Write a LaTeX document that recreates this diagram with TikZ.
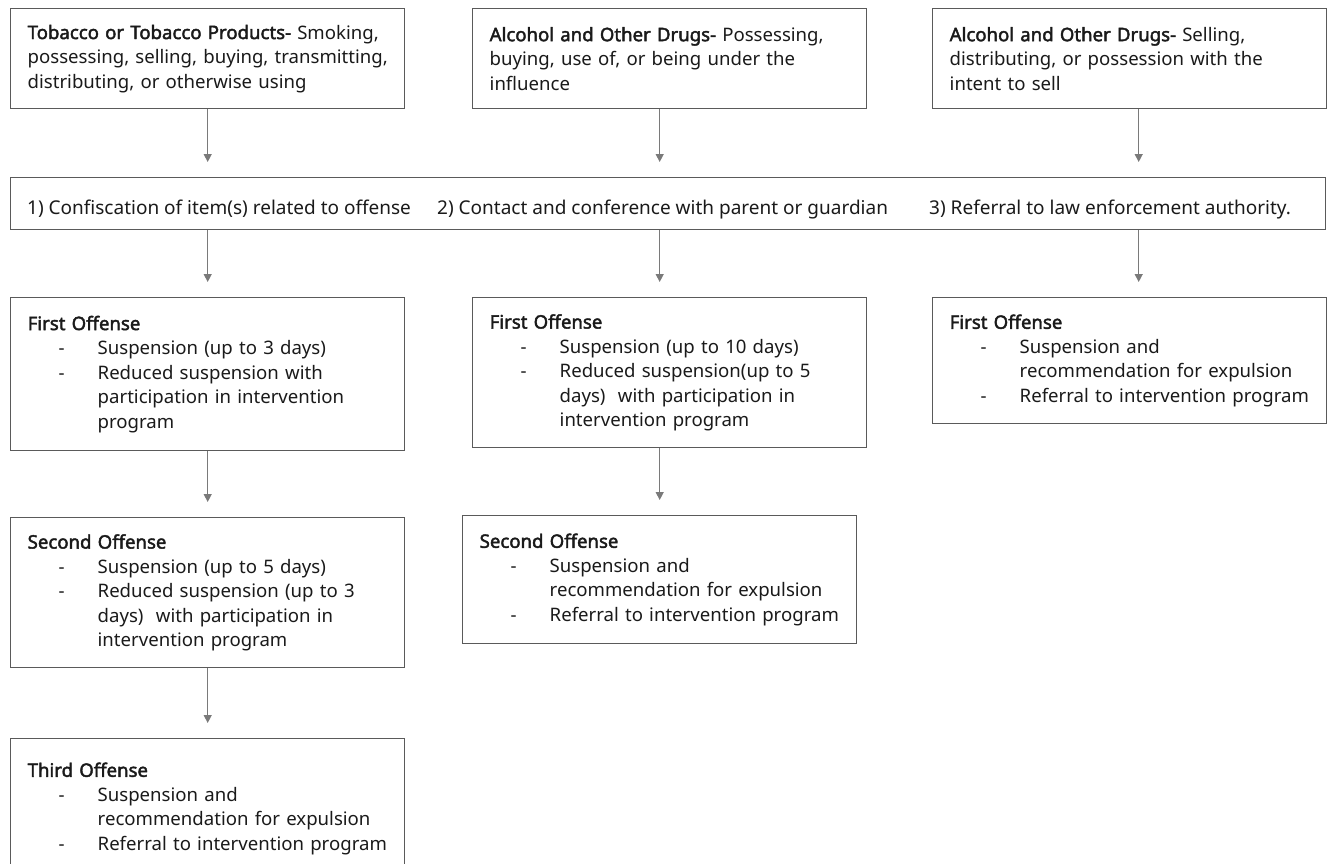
\documentclass[tikz,border=0pt]{standalone}
\usepackage{fontspec}
\setmainfont{Noto Sans}[AutoFakeBold=2.2]
\usetikzlibrary{arrows.meta}
\definecolor{boxgray}{HTML}{5A5A5A}
\definecolor{arrgray}{HTML}{7A7A7A}
\definecolor{txt}{HTML}{1A1A1A}
\newcommand{\fs}{\fontsize{18.6}{24.5}\selectfont}
\newcommand{\fsb}{\fontsize{19}{24.5}\selectfont}
\newcommand{\dsh}{\hspace*{31pt}\makebox[39pt][l]{-}}
\newcommand{\ind}{\hspace*{70pt}}
\newcommand{\nb}[1]{\mbox{#1}}
\begin{document}
\begin{tikzpicture}[x=1pt,y=-1pt,
  box/.style={draw=boxgray, line width=1.4pt, anchor=north west, inner xsep=17pt, inner ysep=0pt,
    text width=360pt, align=left, font=\fs, text=txt},
  bartext/.style={anchor=base west, inner sep=0pt, font=\fsb, text=txt},
  arr/.style={draw=arrgray, line width=1.3pt, -{Triangle[width=8pt,length=8pt]}, shorten >=15pt}]
\useasboundingbox (0,0) rectangle (1331,863);
\fill[white] (0,0) rectangle (1331,863);

% top boxes
\node[box, minimum height=100pt] (b1) at (10,8)
  {\nb{\textbf{Tobacco or Tobacco Products-} Smoking,}\\\nb{possessing, selling, buying, transmitting,}\\\nb{distributing, or otherwise using}};
\node[box, minimum height=100pt] (b2) at (472,8)
  {\nb{\textbf{Alcohol and Other Drugs-} Possessing,}\\buying, use of, or being under the\\influence};
\node[box, minimum height=100pt] (b3) at (932,8)
  {\nb{\textbf{Alcohol and Other Drugs-} Selling,}\\distributing, or possession with the\\intent to sell};

% bar
\node[draw=boxgray, line width=1.4pt, anchor=north west, minimum width=1315pt, minimum height=52pt, inner sep=0pt] (bar) at (10,177) {};
\node[bartext] (t1) at (27,214) {1) Confiscation of item(s) related to offense};
\node[bartext] (t2) at (437,214) {2) Contact and conference with parent or guardian};
\node[bartext] (t3) at (929,214) {3) Referral to law enforcement authority.};

% second row
\node[box, minimum height=153pt] (a1) at (10,297)
  {\textbf{First Offense}\\\dsh Suspension (up to 3 days)\\\dsh Reduced suspension with\\\ind participation in intervention\\\ind program};
\node[box, minimum height=150pt] (m1) at (472,297)
  {\textbf{First Offense}\\\dsh Suspension (up to 10 days)\\\dsh Reduced suspension(up to 5\\\ind days)\ \ with participation in\\\ind intervention program};
\node[box, minimum height=126pt] (c1) at (932,297)
  {\textbf{First Offense}\\\dsh Suspension and\\\ind recommendation for expulsion\\\dsh \nb{Referral to intervention program}};

% third row
\node[box, minimum height=150pt] (a2) at (10,517)
  {\textbf{Second Offense}\\\dsh Suspension (up to 5 days)\\\dsh Reduced suspension (up to 3\\\ind days)\ \ with participation in\\\ind intervention program};
\node[box, minimum height=128pt] (m2) at (462,515)
  {\textbf{Second Offense}\\\dsh Suspension and\\\ind recommendation for expulsion\\\dsh \nb{Referral to intervention program}};

% fourth row
\node[box, minimum height=140pt] (a3) at (10,738)
  {\textbf{Third Offense}\\\dsh Suspension and\\\ind recommendation for expulsion\\\dsh \nb{Referral to intervention program}\\[14pt]};

% connector x positions
\coordinate (xl) at (b1.south);
\coordinate (xm) at (m2.north);
\coordinate (xr) at ([xshift=9pt]b3.south);

% arrows
\draw[arr] (b1.south) -- (bar.north -| xl);
\draw[arr] (b2.south -| xm) -- (bar.north -| xm);
\draw[arr] (b3.south -| xr) -- (bar.north -| xr);
\draw[arr] (bar.south -| xl) -- (a1.north);
\draw[arr] (bar.south -| xm) -- (m1.north -| xm);
\draw[arr] (bar.south -| xr) -- (c1.north -| xr);
\draw[arr] (a1.south) -- (a2.north);
\draw[arr] (m1.south -| xm) -- (m2.north);
\draw[arr] (a2.south) -- (a3.north);
\end{tikzpicture}
\end{document}
